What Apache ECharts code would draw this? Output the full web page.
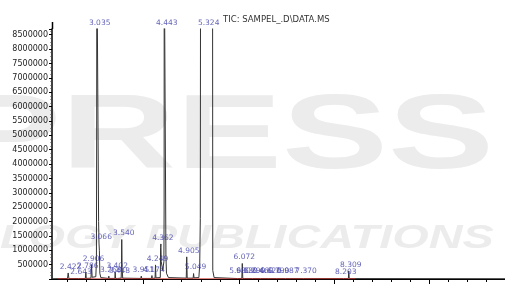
<!DOCTYPE html>
<html><head><meta charset="utf-8">
<script src="https://cdn.jsdelivr.net/npm/echarts@6/dist/echarts.min.js"></script>
<style>html,body{margin:0;padding:0;background:#fff}#c{width:505px;height:284px}</style>
</head><body><div id="c"></div>
<script>
// Retention times (min) of labelled peaks
const peakTimes = [2.422, 2.643, 2.786, 2.906, 3.035, 3.066, 3.268, 3.402, 3.448, 3.540, 3.950, 4.174, 4.249, 4.362, 4.443, 4.905, 5.049, 5.324, 5.980, 6.072, 6.130, 6.290, 6.460, 6.620, 6.790, 6.987, 7.370, 8.203, 8.309];
// Apex abundance of each peak (tall ones run off scale)
const peakHeights = [210000, 25000, 240000, 500000, 12000000, 1250000, 100000, 240000, 70000, 1375000, 100000, 120000, 490000, 1220000, 12000000, 770000, 190000, 12000000, 70000, 540000, 70000, 70000, 70000, 70000, 70000, 70000, 70000, 35000, 280000];
const peakLabels = ["2.422", "2.643", "2.786", "2.906", "3.035", "3.066", "3.268", "3.402", "3.448", "3.540", "3.951", "4.174", "4.249", "4.362", "4.443", "4.905", "5.049", "5.324", "5.980", "6.072", "6.130", "6.290", "6.460", "6.620", "6.790", "6.987", "7.370", "8.203", "8.309"];

// TIC trace [time, abundance]
const ticTrace = [
  [2.075, 10000], [2.40, 15000], [2.415, 210000], [2.43, 15000],
  [2.635, 15000], [2.643, 25000], [2.65, 15000],
  [2.775, 15000], [2.786, 240000], [2.795, 20000],
  [2.893, 30000], [2.906, 500000], [2.918, 60000],
  [2.995, 80000], [3.008, 600000], [3.014, 5500000], [3.016, 12000000], [3.05, 12000000], [3.054, 2000000], [3.062, 1250000], [3.07, 1000000], [3.08, 200000], [3.10, 50000],
  [3.26, 20000], [3.268, 100000], [3.276, 20000],
  [3.395, 20000], [3.402, 240000], [3.41, 20000],
  [3.442, 20000], [3.448, 70000], [3.455, 20000],
  [3.528, 30000], [3.535, 500000], [3.540, 1375000], [3.547, 400000], [3.56, 30000],
  [3.94, 20000], [3.95, 100000], [3.96, 20000],
  [4.165, 20000], [4.174, 120000], [4.182, 20000],
  [4.24, 30000], [4.249, 490000], [4.258, 40000],
  [4.35, 50000], [4.356, 1100000], [4.362, 1220000], [4.37, 600000],
  [4.40, 300000], [4.425, 600000], [4.43, 2400000], [4.432, 12000000], [4.466, 12000000], [4.468, 800000], [4.48, 200000], [4.52, 50000],
  [4.895, 30000], [4.905, 770000], [4.915, 30000],
  [5.04, 30000], [5.049, 190000], [5.058, 40000],
  [5.16, 50000], [5.178, 500000], [5.19, 2100000], [5.196, 12000000], [5.447, 12000000], [5.452, 300000], [5.48, 50000],
  [5.975, 15000], [5.98, 70000], [5.988, 15000],
  [6.062, 20000], [6.072, 540000], [6.082, 20000],
  [6.125, 15000], [6.13, 70000], [6.137, 15000],
  [6.285, 15000], [6.29, 70000], [6.297, 15000],
  [6.455, 15000], [6.46, 70000], [6.467, 15000],
  [6.615, 15000], [6.62, 70000], [6.627, 15000],
  [6.785, 15000], [6.79, 70000], [6.797, 15000],
  [6.98, 15000], [6.987, 70000], [6.995, 15000],
  [7.362, 15000], [7.37, 70000], [7.378, 15000],
  [8.196, 15000], [8.203, 35000], [8.21, 15000],
  [8.30, 15000], [8.309, 280000], [8.318, 15000],
  [11.59, 10000]
];
// Integration baseline segment
const baseline = [[2.20, 8000], [8.45, 8000]];
const yTickStep = 500000;
const yMax = 8700000;
const xMin = 2.075, xMax = 11.59;
const xMinorTicks = [2.4, 2.8, 3.2, 3.6, 4.0, 4.4, 4.8, 5.2, 5.6, 6.0, 6.4, 6.8, 7.2, 7.6, 8.0, 8.4, 8.8, 9.2, 9.6, 10.0, 10.4, 10.8, 11.2];
const xMajorTicks = [4.0, 6.0, 8.0, 10.0];

const labelPts = peakTimes.map((t, i) => ({value: [t, Math.min(peakHeights[i], yMax)], name: peakLabels[i]}));

const chart = echarts.init(document.getElementById('c'), null, {renderer: 'canvas'});
const wm = '#ececec';
chart.setOption({
  animation: false,
  backgroundColor: '#fff',
  title: {text: 'TIC: SAMPEL_.D\\DATA.MS', left: 218, top: 10, textStyle: {fontFamily: 'DejaVu Sans', fontSize: 8.5, fontWeight: 'normal', color: '#333'}},
  graphic: [
    {id: 'wm1', type: 'text', z: -10, left: -45, top: 86, style: {text: 'PRESS', font: 'bold 106px "Liberation Sans"', fill: wm}, scaleX: 1.5},
    {id: 'wm2', type: 'text', z: -10, left: 0, top: 222, style: {text: 'LOGY PUBLICATIONS', font: 'italic bold 33px "Liberation Sans"', fill: wm}, scaleX: 1.42}
  ],
  grid: {left: 52, right: 0, top: 29, bottom: 5, containLabel: false},
  xAxis: [{
    type: 'value', min: xMin, max: xMax,
    axisLine: {show: true, lineStyle: {color: '#000', width: 1}},
    axisTick: {show: true, inside: false, length: 3, customValues: xMinorTicks, lineStyle: {color: '#000'}},
    axisLabel: {show: false}, splitLine: {show: false}
  }, {
    type: 'value', min: xMin, max: xMax, position: 'bottom',
    axisLine: {show: false},
    axisTick: {show: true, length: 5, customValues: xMajorTicks, lineStyle: {color: '#000'}},
    axisLabel: {show: false}, splitLine: {show: false}
  }],
  yAxis: {
    type: 'value', min: 0, max: yMax, interval: yTickStep,
    axisLine: {show: true, lineStyle: {color: '#000', width: 1.5}},
    axisTick: {show: true, length: 3, lineStyle: {color: '#000'}},
    minorTick: {show: true, splitNumber: 4, length: 1.5, lineStyle: {color: '#444'}},
    axisLabel: {
      margin: 4, fontFamily: 'DejaVu Sans', fontSize: 8, color: '#222',
      showMinLabel: false, showMaxLabel: false,
      formatter: v => (v === 0 || v > 8500000) ? '' : String(v)
    },
    splitLine: {show: false}
  },
  series: [
    {type: 'line', data: ticTrace, symbol: 'none', clip: true, z: 3,
     lineStyle: {color: '#333', width: 1}},
    {type: 'line', data: baseline, symbol: 'none', z: 4,
     lineStyle: {color: '#d0302a', width: 0.8}},
    {type: 'scatter', data: labelPts, symbolSize: 0, z: 5, clip: false,
     label: {show: true, position: 'top', distance: 2, offset: [2, 0], formatter: p => p.name,
       fontFamily: 'DejaVu Sans', fontSize: 7.5, color: '#3b3ba6'}}
  ]
});
// extend the y axis line a little above the plotting area, as in the original
const topPt = chart.convertToPixel({gridIndex: 0}, [xMin, yMax]);
const ax = Math.round(topPt[0]) + 0.5;
chart.setOption({graphic: [{id: 'axext', type: 'line', z: 10, shape: {x1: ax, y1: topPt[1] - 7, x2: ax, y2: topPt[1]}, style: {stroke: '#000', lineWidth: 1.5}}]});
</script></body></html>
